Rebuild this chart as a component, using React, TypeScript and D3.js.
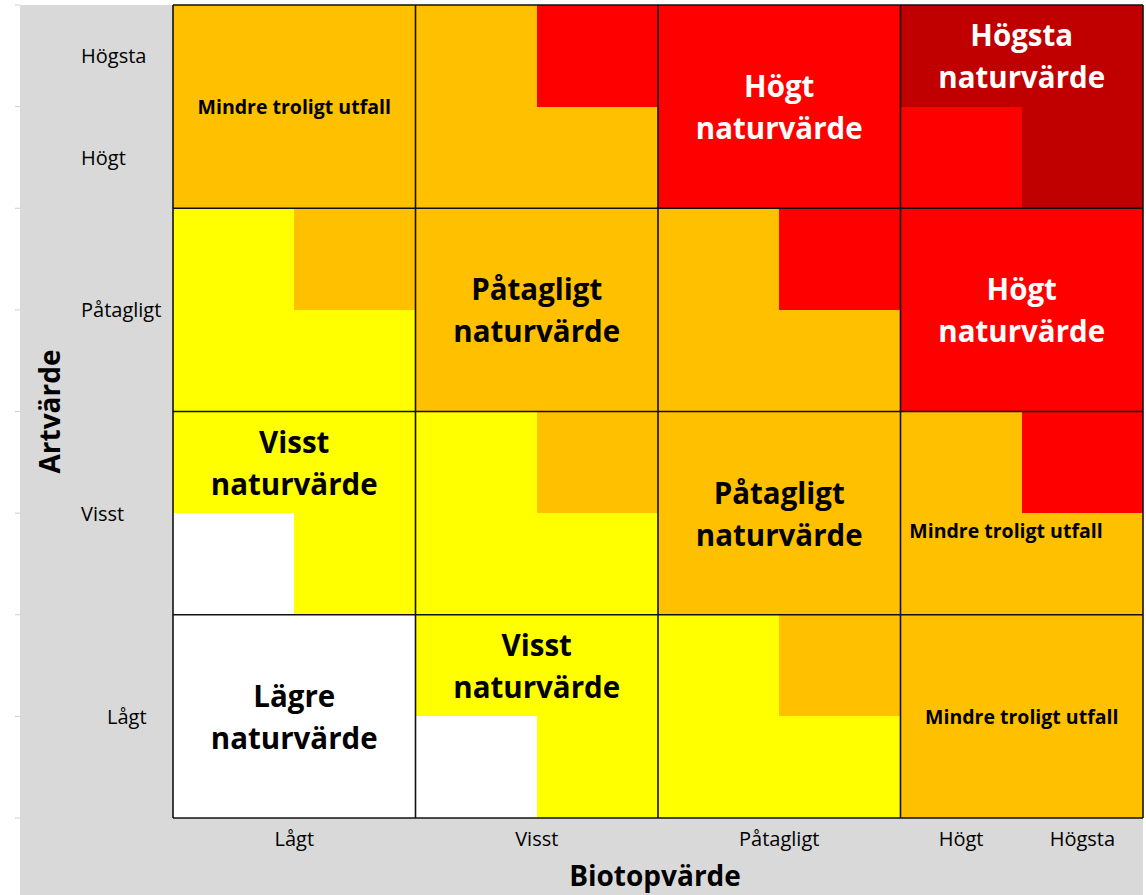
import React from "react";
import * as d3 from "d3";

// value levels on both axes
const levels = ["Lågt", "Visst", "Påtagligt", "Högt", "Högsta"];

// 8x8 sub-cell colour codes, top row first (Artvärde high -> low), columns Biotopvärde low -> high
const subGrid = [
  "OOORRRDD",
  "OOOORRRD",
  "YOOOORRR",
  "YYOOOORR",
  "YYYOOOOR",
  "WYYYOOOO",
  "WWYYYOOO",
  "WWWYYYOO",
];

const palette: Record<string, string> = {
  W: "#ffffff",
  Y: "#ffff00",
  O: "#ffc000",
  R: "#ff0000",
  D: "#c00000",
};

// tick positions in sub-cell units (y from top, x from left)
const yTicks = [
  { label: "Högsta", at: 0.5 },
  { label: "Högt", at: 1.5 },
  { label: "Påtagligt", at: 3 },
  { label: "Visst", at: 5 },
  { label: "Lågt", at: 7 },
];
const xTicks = [
  { label: "Lågt", at: 1 },
  { label: "Visst", at: 3 },
  { label: "Påtagligt", at: 5 },
  { label: "Högt", at: 6.5 },
  { label: "Högsta", at: 7.5 },
];

// cell annotations, anchored in sub-cell units
const notes = [
  { u: 1, v: 1, lines: ["Mindre troligt utfall"], big: false, light: false },
  { u: 5, v: 1, lines: ["Högt", "naturvärde"], big: true, light: true },
  { u: 7, v: 0.5, lines: ["Högsta", "naturvärde"], big: true, light: true },
  { u: 3, v: 3, lines: ["Påtagligt", "naturvärde"], big: true, light: false },
  { u: 7, v: 3, lines: ["Högt", "naturvärde"], big: true, light: true },
  { u: 1, v: 4.5, lines: ["Visst", "naturvärde"], big: true, light: false },
  { u: 5, v: 5, lines: ["Påtagligt", "naturvärde"], big: true, light: false },
  { u: 6.87, v: 5.17, lines: ["Mindre troligt utfall"], big: false, light: false },
  { u: 1, v: 7, lines: ["Lägre", "naturvärde"], big: true, light: false },
  { u: 3, v: 6.5, lines: ["Visst", "naturvärde"], big: true, light: false },
  { u: 7, v: 7, lines: ["Mindre troligt utfall"], big: false, light: false },
];

const W = 1146;
const H = 895;
const FONT = "'Open Sans', 'Noto Sans', sans-serif";

export default function App() {
  const x = d3.scaleLinear().domain([0, 8]).range([173, 1143]);
  const y = d3.scaleLinear().domain([0, 8]).range([5, 818]);
  const bigEdges = d3.range(0, 9, 2);
  const sheetRows = d3.range(0, 9);

  return (
    <svg width={W} height={H} style={{ position: "absolute", left: 0, top: 0 }}>
      <rect x={0} y={0} width={W} height={H} fill="#fff" />
      <rect x={20} y={5} width={1123} height={H - 5} fill="#d9d9d9" />
      {sheetRows.map((i) => (
        <line key={i} x1={15} x2={20} y1={y(i)} y2={y(i)} stroke="#d0d0d0" strokeWidth={1} />
      ))}

      <g shapeRendering="crispEdges">
        {subGrid.map((row, r) =>
          row.split("").map((c, k) => (
            <rect
              key={`${r}-${k}`}
              x={Math.round(x(k))}
              y={Math.round(y(r))}
              width={Math.round(x(k + 1)) - Math.round(x(k))}
              height={Math.round(y(r + 1)) - Math.round(y(r))}
              fill={palette[c]}
            />
          ))
        )}
      </g>

      {bigEdges.map((e) => (
        <g key={e}>
          <line x1={x(e)} x2={x(e)} y1={y(0)} y2={y(8)} stroke="#111" strokeWidth={1.6} />
          <line x1={x(0)} x2={x(8)} y1={y(e)} y2={y(e)} stroke="#111" strokeWidth={1.6} />
        </g>
      ))}

      {notes.map((n, i) => {
        const size = n.big ? 29.5 : 19.5;
        const gap = n.big ? 42 : 0;
        const cy = y(n.v);
        return (
          <text
            key={i}
            x={x(n.u)}
            textAnchor="middle"
            fontFamily={FONT}
            fontWeight="bold"
            fontSize={size}
            fill={n.light ? "#ffffff" : "#000000"}
          >
            {n.lines.map((l, j) => (
              <tspan
                key={j}
                x={x(n.u)}
                y={cy + (j - (n.lines.length - 1) / 2) * gap}
                dominantBaseline="central"
              >
                {l}
              </tspan>
            ))}
          </text>
        );
      })}

      {yTicks.map((t) => (
        <text
          key={t.label}
          x={t.label === "Lågt" ? 107 : 81}
          y={y(t.at)}
          dominantBaseline="central"
          fontFamily={FONT}
          fontSize={20}
          fill="#000"
        >
          {t.label}
        </text>
      ))}
      {xTicks.map((t) => (
        <text
          key={t.label}
          x={x(t.at)}
          y={838}
          textAnchor="middle"
          dominantBaseline="central"
          fontFamily={FONT}
          fontSize={20}
          fill="#000"
        >
          {t.label}
        </text>
      ))}

      <text
        x={655}
        y={875}
        textAnchor="middle"
        dominantBaseline="central"
        fontFamily={FONT}
        fontWeight="bold"
        fontSize={28}
        fill="#000"
      >
        Biotopvärde
      </text>
      <text
        transform={`translate(49,${y(4)}) rotate(-90)`}
        textAnchor="middle"
        dominantBaseline="central"
        fontFamily={FONT}
        fontWeight="bold"
        fontSize={28}
        fill="#000"
      >
        Artvärde
      </text>
    </svg>
  );
}
